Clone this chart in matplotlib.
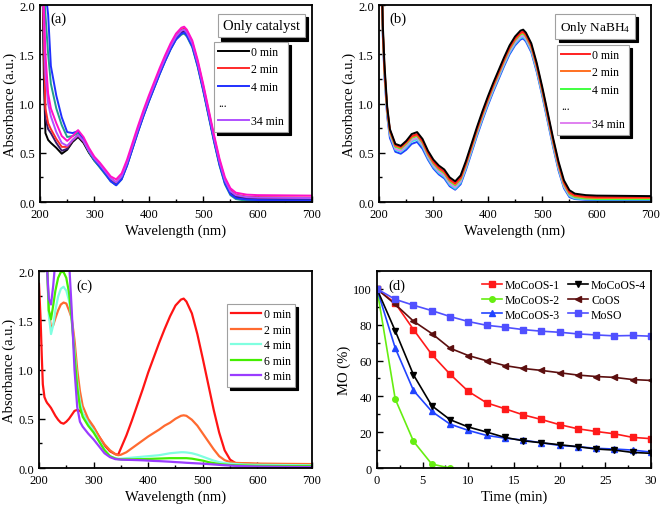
import numpy as np
import matplotlib
matplotlib.use("Agg")
import matplotlib.pyplot as plt
from matplotlib.lines import Line2D
from matplotlib.legend_handler import HandlerBase
from matplotlib.text import Text
from matplotlib.ticker import MultipleLocator

plt.rcParams['font.family'] = ['Liberation Serif', 'DejaVu Serif']
plt.rcParams['mathtext.fontset'] = 'custom'
plt.rcParams['mathtext.rm'] = 'Liberation Serif'
plt.rcParams['mathtext.default'] = 'regular'

nan = np.nan

# ---------------- panel (a) / (b) wavelength grid ----------------
wl_ab = [205, 207, 210, 215, 220, 230, 240, 250, 260, 270, 280, 290, 300, 310, 320,
         330, 340, 350, 360, 370, 380, 390, 400, 410, 420, 430, 440, 450, 460, 465,
         470, 480, 490, 500, 510, 520, 530, 540, 550, 560, 580, 600, 700]

# (a) Only catalyst
a_black = [2.10, 1.30, 0.70, 0.63, 0.60, 0.55, 0.49, 0.53, 0.61, 0.66, 0.60, 0.50, 0.42, 0.36, 0.29,
           0.22, 0.18, 0.24, 0.38, 0.55, 0.72, 0.88, 1.03, 1.17, 1.31, 1.44, 1.56, 1.66, 1.72, 1.73,
           1.70, 1.59, 1.39, 1.15, 0.89, 0.63, 0.39, 0.20, 0.09, 0.05, 0.03, 0.025, 0.02]
a_navy = [2.15, 1.50, 0.85, 0.74, 0.70, 0.60, 0.52, 0.54, 0.62, 0.67, 0.61, 0.51, 0.43, 0.37, 0.30,
          0.23, 0.19, 0.25, 0.39, 0.56, 0.73, 0.89, 1.04, 1.18, 1.32, 1.45, 1.57, 1.67, 1.73, 1.74,
          1.71, 1.60, 1.40, 1.16, 0.90, 0.64, 0.40, 0.21, 0.10, 0.06, 0.04, 0.035, 0.03]
a_red = [2.20, 1.70, 0.95, 0.80, 0.74, 0.64, 0.56, 0.56, 0.63, 0.68, 0.62, 0.52, 0.44, 0.38, 0.31,
         0.24, 0.20, 0.26, 0.40, 0.57, 0.74, 0.90, 1.05, 1.19, 1.33, 1.46, 1.58, 1.68, 1.75, 1.76,
         1.73, 1.62, 1.42, 1.18, 0.92, 0.66, 0.42, 0.23, 0.12, 0.075, 0.055, 0.05, 0.045]
a_blue = [2.30, 2.25, 2.15, 1.90, 1.38, 1.08, 0.86, 0.71, 0.70, 0.72, 0.64, 0.52, 0.43, 0.36, 0.29,
          0.21, 0.17, 0.23, 0.37, 0.54, 0.71, 0.87, 1.02, 1.16, 1.30, 1.43, 1.55, 1.65, 1.71, 1.72,
          1.69, 1.58, 1.38, 1.14, 0.88, 0.62, 0.38, 0.19, 0.08, 0.04, 0.025, 0.02, 0.015]
a_teal = [2.25, 2.15, 1.90, 1.50, 1.20, 0.95, 0.78, 0.66, 0.67, 0.70, 0.63, 0.51, 0.42, 0.35, 0.28,
          0.21, 0.17, 0.23, 0.37, 0.54, 0.71, 0.87, 1.02, 1.16, 1.30, 1.43, 1.55, 1.65, 1.70, 1.71,
          1.68, 1.57, 1.37, 1.13, 0.87, 0.61, 0.37, 0.18, 0.07, 0.03, 0.012, 0.01, 0.01]
a_magenta = [2.20, 2.00, 1.50, 1.10, 0.95, 0.80, 0.67, 0.62, 0.67, 0.73, 0.66, 0.55, 0.46, 0.40, 0.33,
             0.26, 0.23, 0.29, 0.43, 0.60, 0.77, 0.93, 1.08, 1.22, 1.36, 1.49, 1.61, 1.71, 1.77, 1.78,
             1.75, 1.64, 1.44, 1.20, 0.94, 0.68, 0.44, 0.25, 0.14, 0.095, 0.075, 0.07, 0.065]
a_violet = [2.10, 1.90, 1.30, 1.00, 0.87, 0.71, 0.60, 0.57, 0.63, 0.68, 0.62, 0.52, 0.44, 0.38, 0.31,
            0.24, 0.20, 0.26, 0.40, 0.57, 0.74, 0.90, 1.05, 1.19, 1.33, 1.46, 1.58, 1.68, 1.74, 1.75,
            1.72, 1.61, 1.41, 1.17, 0.91, 0.65, 0.41, 0.22, 0.11, 0.07, 0.05, 0.045, 0.04]

# (b) Only NaBH4
b_black = [2.30, 1.80, 1.40, 0.97, 0.74, 0.59, 0.57, 0.62, 0.69, 0.71, 0.64, 0.52, 0.43, 0.37, 0.33,
           0.25, 0.21, 0.27, 0.42, 0.59, 0.76, 0.92, 1.07, 1.21, 1.34, 1.47, 1.59, 1.68, 1.74, 1.75,
           1.72, 1.61, 1.41, 1.17, 0.91, 0.65, 0.41, 0.22, 0.12, 0.085, 0.07, 0.065, 0.06]
b_red = [2.25, 1.75, 1.35, 0.95, 0.73, 0.58, 0.56, 0.61, 0.67, 0.69, 0.62, 0.50, 0.41, 0.35, 0.31,
         0.23, 0.19, 0.25, 0.40, 0.57, 0.74, 0.90, 1.05, 1.19, 1.32, 1.45, 1.57, 1.66, 1.72, 1.73,
         1.70, 1.59, 1.39, 1.15, 0.89, 0.63, 0.39, 0.20, 0.10, 0.07, 0.055, 0.05, 0.05]
b_orange = [2.25, 1.74, 1.34, 0.94, 0.72, 0.57, 0.55, 0.60, 0.66, 0.68, 0.61, 0.49, 0.40, 0.34, 0.30,
            0.22, 0.18, 0.24, 0.39, 0.56, 0.73, 0.89, 1.04, 1.18, 1.31, 1.44, 1.56, 1.65, 1.71, 1.72,
            1.69, 1.58, 1.38, 1.14, 0.88, 0.62, 0.38, 0.19, 0.09, 0.06, 0.045, 0.04, 0.04]
b_green = [2.24, 1.73, 1.33, 0.93, 0.71, 0.56, 0.54, 0.59, 0.65, 0.67, 0.60, 0.48, 0.39, 0.33, 0.29,
           0.21, 0.17, 0.23, 0.38, 0.55, 0.72, 0.88, 1.03, 1.17, 1.30, 1.43, 1.55, 1.64, 1.70, 1.71,
           1.68, 1.57, 1.37, 1.13, 0.87, 0.61, 0.37, 0.18, 0.08, 0.05, 0.035, 0.03, 0.03]
b_pink = [2.22, 1.71, 1.31, 0.91, 0.69, 0.54, 0.52, 0.57, 0.63, 0.65, 0.58, 0.46, 0.37, 0.31, 0.27,
          0.19, 0.15, 0.21, 0.36, 0.53, 0.70, 0.86, 1.01, 1.15, 1.28, 1.41, 1.53, 1.62, 1.68, 1.69,
          1.66, 1.55, 1.35, 1.11, 0.85, 0.59, 0.35, 0.16, 0.07, 0.045, 0.035, 0.03, 0.03]
b_cyan = [2.20, 1.70, 1.30, 0.90, 0.68, 0.53, 0.51, 0.555, 0.615, 0.635, 0.565, 0.445, 0.355, 0.295, 0.255,
          0.175, 0.135, 0.195, 0.345, 0.515, 0.685, 0.845, 0.995, 1.135, 1.265, 1.395, 1.515, 1.605, 1.665, 1.675,
          1.645, 1.535, 1.335, 1.095, 0.835, 0.575, 0.335, 0.15, 0.06, 0.035, 0.028, 0.025, 0.025]
b_blue = [2.20, 1.68, 1.28, 0.87, 0.65, 0.51, 0.49, 0.53, 0.59, 0.61, 0.54, 0.43, 0.34, 0.28, 0.24,
          0.16, 0.125, 0.18, 0.33, 0.50, 0.67, 0.83, 0.98, 1.12, 1.25, 1.38, 1.50, 1.59, 1.65, 1.66,
          1.63, 1.52, 1.32, 1.08, 0.82, 0.56, 0.32, 0.14, 0.05, 0.03, 0.022, 0.02, 0.02]

# ---------------- panel (c) ----------------
wl_c = [200, 203, 205, 207, 210, 213, 215, 218, 222, 226, 230, 235, 240, 245, 250,
        255, 260, 265, 270, 275, 280, 290, 300, 310, 320, 330, 340, 345, 350, 360,
        370, 380, 390, 400, 410, 420, 430, 440, 450, 460, 465, 470, 480, 490, 500,
        510, 520, 530, 540, 550, 560, 580, 600, 650, 700]
c_0 = [1.87, 1.50, 1.15, 0.85, 0.72, 0.68, 0.66, 0.64, 0.61, 0.57, 0.53, 0.49, 0.46, 0.45, 0.47,
       0.50, 0.54, 0.58, 0.59, 0.58, 0.55, 0.48, 0.41, 0.32, 0.23, 0.17, 0.14, 0.135, 0.20, 0.33,
       0.48, 0.64, 0.80, 0.97, 1.12, 1.27, 1.41, 1.54, 1.65, 1.71, 1.72, 1.69, 1.57, 1.36, 1.11,
       0.85, 0.59, 0.36, 0.18, 0.085, 0.05, 0.045, 0.04, 0.037, 0.035]
c_2 = [nan, nan, nan, nan, nan, 2.30, 2.00, 1.60, 1.42, 1.45, 1.52, 1.60, 1.66, 1.68, 1.67,
       1.60, 1.52, 1.30, 1.00, 0.78, 0.63, 0.50, 0.42, 0.32, 0.24, 0.18, 0.14, 0.13, 0.135, 0.16,
       0.20, 0.24, 0.28, 0.32, 0.355, 0.39, 0.43, 0.46, 0.50, 0.53, 0.535, 0.53, 0.49, 0.43, 0.35,
       0.27, 0.19, 0.12, 0.08, 0.06, 0.052, 0.048, 0.045, 0.042, 0.04]
c_4 = [nan, nan, nan, nan, nan, 2.30, 2.00, 1.55, 1.36, 1.45, 1.60, 1.74, 1.82, 1.84, 1.80,
       1.70, 1.50, 1.20, 0.88, 0.68, 0.56, 0.46, 0.38, 0.28, 0.19, 0.12, 0.10, 0.095, 0.095, 0.10,
       0.105, 0.11, 0.115, 0.12, 0.125, 0.13, 0.14, 0.15, 0.155, 0.16, 0.16, 0.158, 0.15, 0.135, 0.115,
       0.095, 0.075, 0.06, 0.05, 0.045, 0.04, 0.035, 0.032, 0.03, 0.028]
c_6 = [nan, nan, nan, nan, nan, 2.30, 2.05, 1.60, 1.51, 1.65, 1.80, 1.93, 1.99, 1.99, 1.93,
       1.78, 1.50, 1.15, 0.82, 0.62, 0.52, 0.43, 0.36, 0.27, 0.18, 0.12, 0.095, 0.09, 0.088, 0.088,
       0.088, 0.09, 0.09, 0.092, 0.094, 0.096, 0.098, 0.10, 0.10, 0.10, 0.10, 0.10, 0.095, 0.085, 0.075,
       0.06, 0.05, 0.04, 0.035, 0.03, 0.028, 0.025, 0.022, 0.02, 0.02]
c_8 = [nan, nan, nan, nan, nan, 2.30, 2.00, 1.72, 1.66, 1.85, 2.10, 2.30, 2.40, 2.40, 2.30,
       2.10, 1.60, 1.00, 0.62, 0.47, 0.42, 0.35, 0.29, 0.22, 0.15, 0.11, 0.09, 0.088, 0.085, 0.083,
       0.082, 0.08, 0.078, 0.075, 0.072, 0.07, 0.067, 0.064, 0.06, 0.057, 0.055, 0.053, 0.05, 0.047, 0.044,
       0.04, 0.036, 0.032, 0.028, 0.025, 0.022, 0.018, 0.015, 0.012, 0.01]

# ---------------- panel (d) ----------------
time_d = [0, 2, 4, 6, 8, 10, 12, 14, 16, 18, 20, 22, 24, 26, 28, 30]
time_m2 = [0, 2, 4, 6, 8]
mocoos1 = [100, 92, 77.3, 63.4, 52.4, 42.8, 36.4, 33.1, 29.7, 27.1, 24.2, 21.9, 20.4, 19.1, 17.1, 16.4]
mocoos2 = [100, 38.5, 14.9, 2.2, 0]
mocoos3 = [100, 67, 43.3, 31.6, 24.5, 21, 18.2, 16.7, 15.6, 14.1, 12.6, 11.9, 11, 10.6, 10, 8.9]
mocoos4 = [100, 76.6, 52, 34.8, 27, 22.9, 20.1, 17.1, 15.2, 14.1, 13, 11.9, 10.6, 10, 8.7, 8.2]
coos = [100, 91.4, 82, 75.1, 66.9, 62.8, 59.9, 57.2, 55.6, 54.5, 53.2, 51.9, 51.1, 50.6, 49.4, 48.9]
moso = [100, 94.2, 90.9, 87.9, 84.6, 81.8, 79.7, 78.6, 77.3, 76.4, 75.8, 74.9, 74.3, 73.8, 74, 73.6]


class Dots:
    pass


class DotsHandler(HandlerBase):
    def create_artists(self, legend, orig_handle, xdescent, ydescent, width, height, fontsize, trans):
        t = Text(-xdescent, -ydescent + height * 0.15, '...', fontsize=fontsize,
                 ha='left', va='baseline', transform=trans)
        return [t]


SHADOW = {'ox': 2.2, 'oy': -2.2, 'facecolor': 'black', 'edgecolor': 'black', 'alpha': 1}
TICK_FS = 9
LAB_FS = 10.5
LEG_FS = 8.5

fig = plt.figure(figsize=(6.61, 5.06), dpi=100)
ax_a = fig.add_axes([0.0605, 0.5988, 0.4115, 0.3893])
ax_b = fig.add_axes([0.5734, 0.5988, 0.4115, 0.3893])
ax_c = fig.add_axes([0.0590, 0.0731, 0.4130, 0.3893])
ax_d = fig.add_axes([0.5703, 0.0731, 0.4145, 0.3893])


def style_spec(ax):
    ax.set_xlim(200, 700)
    ax.set_ylim(0, 2.0)
    ax.xaxis.set_major_locator(MultipleLocator(100))
    ax.xaxis.set_minor_locator(MultipleLocator(50))
    ax.yaxis.set_major_locator(MultipleLocator(0.5))
    ax.yaxis.set_minor_locator(MultipleLocator(0.25))
    ax.yaxis.set_major_formatter(matplotlib.ticker.FormatStrFormatter('%.1f'))
    ax.set_xlabel('Wavelength (nm)', fontsize=LAB_FS, labelpad=2.5)
    ax.set_ylabel('Absorbance (a.u.)', fontsize=LAB_FS, labelpad=2)


def style_common(ax):
    for s in ax.spines.values():
        s.set_linewidth(1.3)
    ax.tick_params(which='both', direction='in', top=False, right=False, labelsize=TICK_FS, width=1.0)
    ax.tick_params(which='major', length=4)
    ax.tick_params(which='minor', length=2.5)
    ax.tick_params(axis='x', which='major', pad=4)
    ax.tick_params(axis='y', which='major', pad=3.5)


def title_box(ax, text, right, top, fs=10.5):
    leg = ax.legend([Line2D([], [], alpha=0)], [text], handlelength=0, handletextpad=0,
                    loc='upper right', bbox_to_anchor=(right, top), borderaxespad=0,
                    fontsize=fs, frameon=True, fancybox=False, shadow=SHADOW,
                    borderpad=0.35, edgecolor='#a0a0a0', framealpha=1)
    leg.get_frame().set_linewidth(0.8)
    ax.add_artist(leg)


# ---- (a)
lw = 1.4
ax = ax_a
ax.plot(wl_ab, a_black, color='black', lw=lw)
ax.plot(wl_ab, a_navy, color='#3a1a6a', lw=lw)
ax.plot(wl_ab, a_red, color='#ff2a2a', lw=lw)
ax.plot(wl_ab, a_teal, color='#22a08a', lw=lw)
ax.plot(wl_ab, a_blue, color='#2030ff', lw=lw)
ax.plot(wl_ab, a_violet, color='#b050ff', lw=lw)
ax.plot(wl_ab, a_magenta, color='#ff10c8', lw=lw)
style_spec(ax)
style_common(ax)
ax.text(0.04, 0.965, '(a)', transform=ax.transAxes, fontsize=10.5, va='top', ha='left')
title_box(ax, 'Only catalyst', 0.974, 0.954)
h = [Line2D([], [], color='black', lw=1.4), Line2D([], [], color='#ff2a2a', lw=1.4),
     Line2D([], [], color='#2030ff', lw=1.4), Dots(), Line2D([], [], color='#b050ff', lw=1.4)]
lab = ['0 min', '2 min', '4 min', '', '34 min']
leg = ax.legend(h, lab, handler_map={Dots: DotsHandler()}, loc='upper right',
                bbox_to_anchor=(0.912, 0.812), borderaxespad=0, fontsize=LEG_FS, frameon=True,
                fancybox=False, shadow=SHADOW, edgecolor='#a0a0a0', framealpha=1,
                handlelength=2.6, handletextpad=0.2, labelspacing=0.45, borderpad=0.35)
leg.get_frame().set_linewidth(0.8)

# ---- (b)
ax = ax_b
ax.plot(wl_ab, b_blue, color='#2040ff', lw=lw)
ax.plot(wl_ab, b_cyan, color='#40e0e0', lw=lw)
ax.plot(wl_ab, b_pink, color='#e080f0', lw=lw)
ax.plot(wl_ab, b_green, color='#40ff40', lw=lw)
ax.plot(wl_ab, b_orange, color='#ff7020', lw=lw)
ax.plot(wl_ab, b_red, color='#ff2020', lw=lw)
ax.plot(wl_ab, b_black, color='black', lw=lw)
style_spec(ax)
style_common(ax)
ax.text(0.037, 0.965, '(b)', transform=ax.transAxes, fontsize=10.5, va='top', ha='left')
title_box(ax, 'Only NaBH$_4$', 0.941, 0.954, fs=9.5)
h = [Line2D([], [], color='#ff2020', lw=1.4), Line2D([], [], color='#ff7020', lw=1.4),
     Line2D([], [], color='#40ff40', lw=1.4), Dots(), Line2D([], [], color='#e080f0', lw=1.4)]
leg = ax.legend(h, lab, handler_map={Dots: DotsHandler()}, loc='upper right',
                bbox_to_anchor=(0.919, 0.797), borderaxespad=0, fontsize=LEG_FS, frameon=True,
                fancybox=False, shadow=SHADOW, edgecolor='#a0a0a0', framealpha=1,
                handlelength=2.4, handletextpad=0.2, labelspacing=0.45, borderpad=0.35)
leg.get_frame().set_linewidth(0.8)

# ---- (c)
ax = ax_c
c_cols = ['#ff1414', '#ff6a30', '#80ffe0', '#44ee00', '#9a3cff']
c_labs = ['0 min', '2 min', '4 min', '6 min', '8 min']
for ys, col, lb in zip([c_0, c_2, c_4, c_6, c_8], c_cols, c_labs):
    ax.plot(wl_c, ys, color=col, lw=1.6, label=lb)
style_spec(ax)
style_common(ax)
ax.text(0.136, 0.96, '(c)', transform=ax.transAxes, fontsize=10.5, va='top', ha='left')
leg = ax.legend(loc='upper right', bbox_to_anchor=(0.938, 0.832), borderaxespad=0,
                fontsize=LEG_FS, frameon=True, fancybox=False, shadow=SHADOW,
                edgecolor='#a0a0a0', framealpha=1, handlelength=2.6, handletextpad=0.2,
                labelspacing=0.3, borderpad=0.35)
leg.get_frame().set_linewidth(0.8)

# ---- (d)
ax = ax_d
ms = 4
dlw = 1.2
ax.plot(time_d, mocoos1, color='#ff1a1a', marker='s', ms=ms, lw=dlw, label='MoCoOS-1')
ax.plot(time_m2, mocoos2, color='#66ee11', marker='o', ms=ms, lw=dlw, label='MoCoOS-2')
ax.plot(time_d, mocoos3, color='#2244ff', marker='^', ms=ms + 0.5, lw=dlw, label='MoCoOS-3')
ax.plot(time_d, mocoos4, color='black', marker='v', ms=ms + 0.5, lw=dlw, label='MoCoOS-4')
ax.plot(time_d, coos, color='#5c0f0f', marker='<', ms=ms + 0.5, lw=dlw, label='CoOS')
ax.plot(time_d, moso, color='#5050ff', marker='s', ms=ms, lw=dlw, label='MoSO')
ax.set_xlim(0, 30)
ax.set_ylim(0, 110)
ax.xaxis.set_major_locator(MultipleLocator(5))
ax.xaxis.set_minor_locator(MultipleLocator(2.5))
ax.yaxis.set_major_locator(MultipleLocator(20))
ax.yaxis.set_minor_locator(MultipleLocator(10))
ax.set_xlabel('Time (min)', fontsize=LAB_FS, labelpad=2.5)
ax.set_ylabel('MO (%)', fontsize=LAB_FS, labelpad=2)
style_common(ax)
ax.text(0.04, 0.96, '(d)', transform=ax.transAxes, fontsize=10.5, va='top', ha='left')
ax.legend(ncol=2, loc='upper right', bbox_to_anchor=(1.0, 0.985), borderaxespad=0,
          fontsize=LEG_FS, frameon=False, handlelength=1.7, handletextpad=0.25,
          labelspacing=0.25, columnspacing=0.7)

fig.savefig('out.png', dpi=100)
